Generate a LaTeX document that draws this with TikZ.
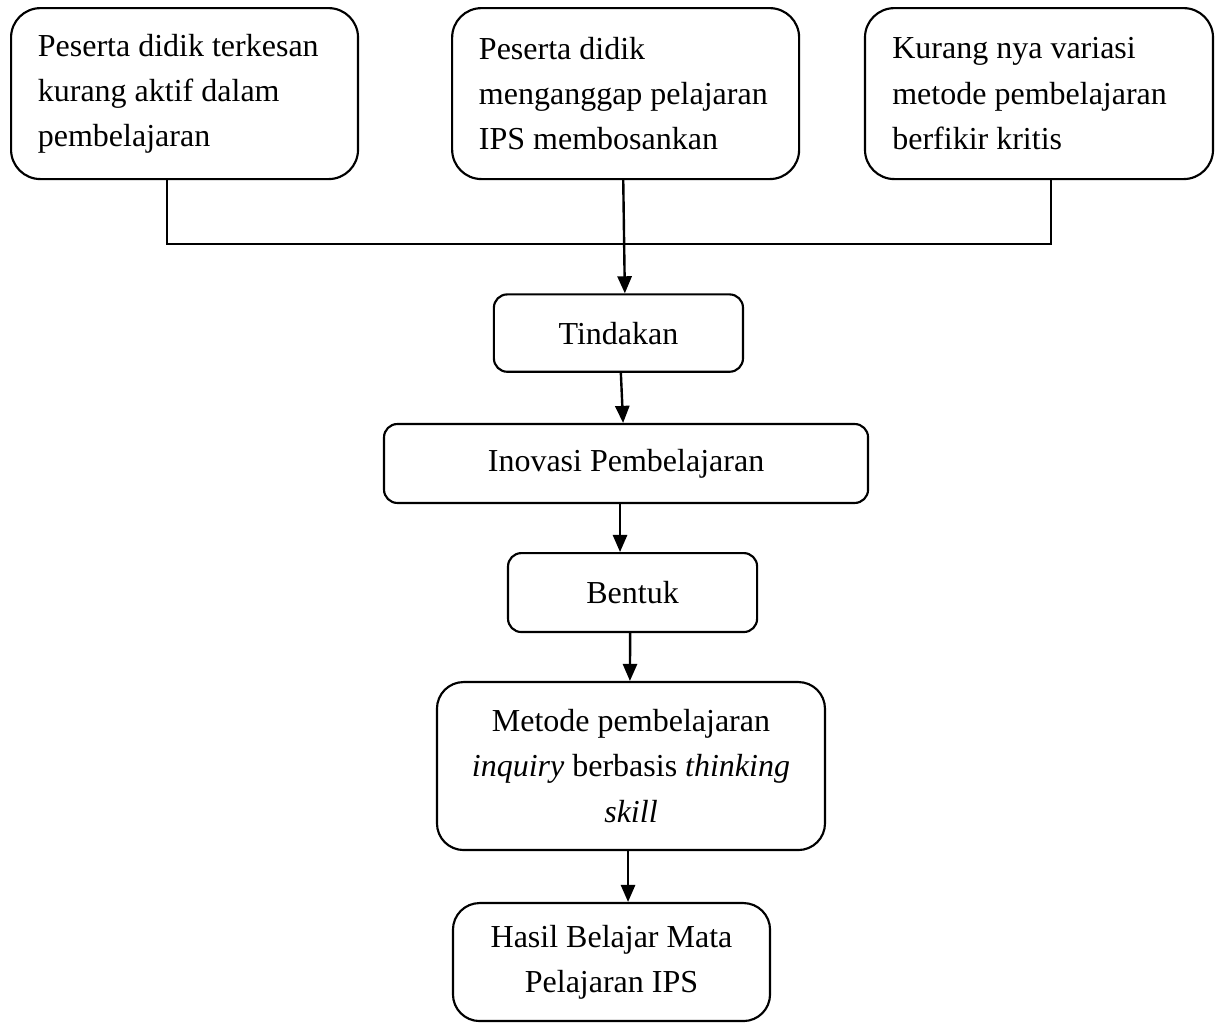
\documentclass[tikz,border=0pt]{standalone}
\usepackage{fontspec}
\setmainfont{Liberation Serif}
\usetikzlibrary{arrows.meta}

\begin{document}
\begin{tikzpicture}[
    box/.style={draw, line width=0.8pt, inner xsep=10pt, inner ysep=0pt,
      font=\fontsize{12}{16.9}\selectfont},
    topbox/.style={box, rounded corners=11pt, align=flush left, text width=110pt,
      minimum width=130.1pt, minimum height=64.1pt},
    midbox/.style={box, rounded corners=5pt, align=center, minimum height=29pt},
    bigbox/.style={box, rounded corners=10pt, align=center},
    link/.style={line width=0.9pt},
    flow/.style={line width=0.9pt, -{Triangle[width=5.3pt,length=6.4pt]}}
  ]

  \useasboundingbox (0,0) rectangle (457.1pt,-384.75pt);

  % problems
  \node[topbox] (aktif) at (69.2pt,-35.1pt)
    {Peserta didik terkesan\\kurang aktif dalam\\pembelajaran};
  \node[topbox] (bosan) at (234.6pt,-35.1pt)
    {Peserta didik\\menganggap pelajaran\\IPS membosankan};
  \node[topbox, minimum width=130.5pt] (variasi) at (389.6pt,-35.1pt)
    {Kurang nya variasi\\metode pembelajaran\\berfikir kritis};

  % flow
  \node[midbox, minimum width=93.4pt] (tindakan) at (231.9pt,-124.9pt) {Tindakan};
  \node[midbox, minimum width=181.5pt, minimum height=29.6pt] (inovasi) at (234.75pt,-173.8pt)
    {Inovasi Pembelajaran};
  \node[midbox, minimum width=93.4pt, minimum height=29.6pt] (bentuk) at (237.2pt,-222.2pt) {Bentuk};
  \node[bigbox, minimum width=145.5pt, minimum height=63pt] (metode) at (236.6pt,-287.25pt)
    {Metode pembelajaran\\\textit{inquiry} berbasis \textit{thinking}\\\textit{skill}};
  \node[bigbox, minimum width=118.9pt, minimum height=44.25pt] (hasil) at (229.3pt,-360.75pt)
    {Hasil Belajar Mata\\Pelajaran IPS};

  \draw[link] ([xshift=-6.6pt]aktif.south) -- ++(0,-24pt) -| ([xshift=4.5pt]variasi.south);
  \draw[flow] ([xshift=-0.9pt]bosan.south) -- ([xshift=2.4pt]tindakan.north);
  \draw[flow] ([xshift=0.9pt]tindakan.south) -- ([xshift=-1.1pt]inovasi.north);
  \draw[flow] ([xshift=-2.25pt]inovasi.south) -- ([xshift=-4.7pt]bentuk.north);
  \draw[flow] ([xshift=-0.9pt]bentuk.south) -- ([xshift=-0.4pt]metode.north);
  \draw[flow] ([xshift=-1.1pt]metode.south) -- ([xshift=6.2pt]hasil.north);

\end{tikzpicture}
\end{document}
